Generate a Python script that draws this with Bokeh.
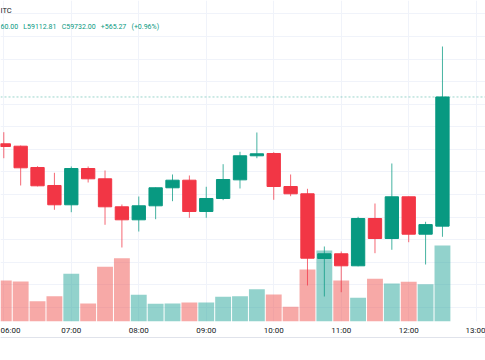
import pandas as pd
from bokeh.plotting import figure
from bokeh.models import (Range1d, LinearAxis, DatetimeTickFormatter, FixedTicker,
                          SingleIntervalTicker, Grid, Span, Label, ColumnDataSource)
from bokeh.embed import file_html
from bokeh.resources import INLINE

# ---------------- data (15-minute candles) ----------------
day = "2024-05-01"
times = ["06:00", "06:15", "06:30", "06:45", "07:00", "07:15", "07:30", "07:45",
         "08:00", "08:15", "08:30", "08:45", "09:00", "09:15", "09:30", "09:45",
         "10:00", "10:15", "10:30", "10:45", "11:00", "11:15", "11:30", "11:45",
         "12:00", "12:15", "12:30"]
opens = [59524.6, 59514.0, 59419.7, 59340.0, 59254.5, 59415.2, 59369.6, 59245.6,
         59188.0, 59250.0, 59329.8, 59363.4, 59224.8, 59282.4, 59365.0, 59471.5,
         59481.7, 59335.5, 59303.2, 59016.7, 59037.5, 58984.3, 59193.8, 59105.2,
         59289.9, 59124.3, 59160.00]
highs = [59576.0, 59517.0, 59425.4, 59396.2, 59424.1, 59424.1, 59406.4, 59255.8,
         59291.2, 59331.0, 59388.7, 59384.2, 59334.2, 59434.3, 59489.2, 59574.7,
         59487.4, 59388.7, 59325.3, 59069.8, 59047.7, 59201.3, 59260.2, 59437.4,
         59291.0, 59179.2, 59955.5]
lows = [59460.8, 59340.0, 59336.0, 59232.3, 59221.7, 59353.2, 59165.9, 59065.4,
        59136.2, 59190.7, 59270.4, 59196.9, 59196.9, 59275.0, 59326.7, 59460.8,
        59276.6, 59292.6, 58897.1, 58848.4, 58867.4, 58982.0, 59040.1, 59055.2,
        59088.8, 58990.1, 59112.81]
closes = [59512.7, 59418.3, 59338.6, 59254.5, 59415.2, 59369.6, 59245.6, 59188.0,
          59250.0, 59329.8, 59363.4, 59224.8, 59282.4, 59366.5, 59471.5, 59480.3,
          59335.5, 59303.2, 59018.0, 59037.5, 58984.3, 59193.8, 59105.2, 59289.9,
          59124.3, 59166.73, 59732.00]
volumes = [410, 400, 203, 253, 477, 180, 547, 633, 267, 177, 180, 190, 190, 247,
           253, 323, 270, 147, 520, 710, 410, 237, 427, 380, 397, 373, 760]
hour_ticks = ["06:00", "07:00", "08:00", "09:00", "10:00", "11:00", "12:00", "13:00"]
symbol_text = "ITC"

# ---------------- styling constants ----------------
UP = "#089981"
DOWN = "#f23645"
VOL_UP = "#26a69a"
VOL_DOWN = "#ef5350"
GRID = "#f0f3fa"
FONT = "Roboto"

W, H = 485, 352
FRAME_H = 321
Y0, Y1 = 58737.6, 60159.3
VOL_END = 3210
MIN = 60_000

t = [pd.Timestamp(f"{day} {s}") for s in times]
t0 = t[0]
x_start = t0 - pd.Timedelta(minutes=2.93)
x_end = t0 + pd.Timedelta(minutes=428.27)

up = [c >= o for o, c in zip(opens, closes)]
src = ColumnDataSource(dict(
    t=t, o=opens, h=highs, l=lows, c=closes, v=volumes,
    top=[max(o, c) for o, c in zip(opens, closes)],
    bot=[min(o, c) for o, c in zip(opens, closes)],
    col=[UP if u else DOWN for u in up],
    vcol=[VOL_UP if u else VOL_DOWN for u in up],
))

p = figure(width=W, height=H, x_axis_type="datetime",
           x_range=Range1d(x_start, x_end), y_range=Range1d(Y0, Y1),
           output_backend="svg", toolbar_location=None, y_axis_location=None,
           min_border_left=0, min_border_right=0, min_border_top=0,
           min_border_bottom=H - FRAME_H)
p.styles = {"position": "absolute", "left": "0px", "top": "0px"}
p.outline_line_color = None
p.background_fill_color = "white"
p.border_fill_color = "white"

hour_ms = [pd.Timestamp(f"{day} {s}") for s in hour_ticks]
ticker = FixedTicker(ticks=[ts.value // 10**6 for ts in hour_ms])

# grids
p.xgrid.ticker = ticker
p.xgrid.grid_line_color = GRID
p.ygrid.grid_line_color = None
p.add_layout(Grid(dimension=1, ticker=SingleIntervalTicker(interval=100),
                  grid_line_color=GRID))

# x axis
ax = p.xaxis[0]
ax.ticker = ticker
ax.formatter = DatetimeTickFormatter(hours="%H:%M", minutes="%H:%M", hourmin="%H:%M")
ax.axis_line_color = None
ax.major_tick_line_color = None
ax.minor_tick_line_color = None
ax.major_tick_out = 0
ax.major_tick_in = 0
ax.major_label_standoff = 4
ax.major_label_text_font = FONT
ax.major_label_text_font_size = "8px"
ax.major_label_text_color = "#131722"

# bottom separator line (empty axis)
ax2 = LinearAxis(ticker=FixedTicker(ticks=[]), axis_line_color="#e0e3eb",
                 major_tick_line_color=None, minor_tick_line_color=None,
                 major_label_text_color=None, major_label_text_font_size="1px")
p.add_layout(ax2, "below")

# volume
p.extra_y_ranges = {"vol": Range1d(0, VOL_END)}
p.vbar(x="t", top="v", bottom=0, width=14.1 * MIN, source=src, y_range_name="vol",
       fill_color="vcol", fill_alpha=0.5, line_color=None)

# candles
p.segment(x0="t", y0="h", x1="t", y1="l", source=src, line_color="col",
          line_width=1, line_alpha=0.75)
p.vbar(x="t", top="top", bottom="bot", width=11.85 * MIN, source=src,
       fill_color="col", line_color="col", line_width=1)

# last price line
p.add_layout(Span(location=closes[-1], dimension="width", line_color=UP,
                  line_alpha=0.4, line_dash="2 2", line_width=1))

# legend header
ppu = FRAME_H / (Y1 - Y0)
chg = closes[-1] - closes[-2]
pct = chg / closes[-2] * 100
gap = "\u00a0\u00a0 "
header = gap.join([f"{opens[-1]:.2f}"[-5:], f"L{lows[-1]:.2f}", f"C{closes[-1]:.2f}",
                   f"{chg:+.2f}", f"({pct:+.2f}%)"])
p.add_layout(Label(x=x_start, y=Y1 - 10 / ppu, text=symbol_text, text_font=FONT,
                   text_font_size="7.5px", text_color="#131722",
                   text_baseline="middle", text_align="left"))
p.add_layout(Label(x=x_start, y=Y1 - 26 / ppu, text=header, text_font=FONT,
                   text_font_size="7px", text_color=UP,
                   text_baseline="middle", text_align="left"))

open("out.html", "w").write(file_html(p, INLINE))
